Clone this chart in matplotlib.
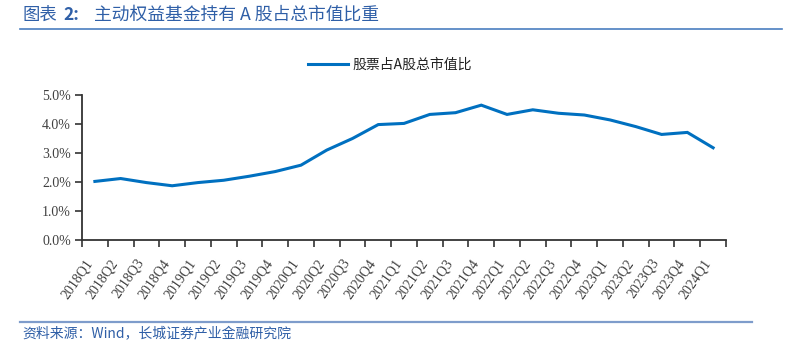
import numpy as np
import matplotlib.pyplot as plt
from matplotlib.lines import Line2D

plt.rcParams['font.family'] = ['Noto Sans CJK SC', 'DejaVu Sans']

# Data
quarters = ["2018Q1", "2018Q2", "2018Q3", "2018Q4",
            "2019Q1", "2019Q2", "2019Q3", "2019Q4",
            "2020Q1", "2020Q2", "2020Q3", "2020Q4",
            "2021Q1", "2021Q2", "2021Q3", "2021Q4",
            "2022Q1", "2022Q2", "2022Q3", "2022Q4",
            "2023Q1", "2023Q2", "2023Q3", "2023Q4",
            "2024Q1"]
share = [2.02, 2.12, 1.98, 1.87,
         1.98, 2.06, 2.20, 2.36,
         2.58, 3.10, 3.50, 3.98,
         4.02, 4.33, 4.39, 4.65,
         4.33, 4.49, 4.37, 4.31,
         4.14, 3.91, 3.64, 3.71,
         3.18]
series_name = "股票占A股总市值比"
source = "资料来源：Wind，长城证券产业金融研究院"

blue_line = "#0070C0"
blue_text = "#2F5FA7"
tick_col = "#404040"

fig = plt.figure(figsize=(7.87, 3.55), dpi=100)
ax = fig.add_axes([82 / 787, 1 - 240 / 355, (726 - 82) / 787, (240 - 95) / 355])

x = np.arange(len(quarters))
ax.plot(x, share, color=blue_line, lw=2.2, solid_joinstyle="miter")

ax.set_xlim(-0.5, len(quarters) - 0.5)
ax.set_ylim(0, 5)
yt = np.arange(0, 5.01, 1)
ax.set_yticks(yt)
ax.set_yticklabels([f"{v:.1f}%" for v in yt],
                   family="Liberation Serif", fontsize=10, color=tick_col)

# boundary ticks (marks) and label positions
ax.set_xticks(np.arange(-0.5, len(quarters), 1))
ax.set_xticklabels([])
ax.set_xticks(x - 0.4, minor=True)
ax.set_xticklabels(quarters, minor=True, rotation=55, ha="right",
                   rotation_mode="anchor", family="Liberation Serif",
                   fontsize=10, color=tick_col)
ax.tick_params(axis="x", which="major", direction="out", length=5, width=1.2, color="#333333")
ax.tick_params(axis="x", which="minor", length=0, pad=12)
ax.tick_params(axis="y", direction="out", length=5, width=1.2, color="#333333", pad=3)

for s in ["top", "right"]:
    ax.spines[s].set_visible(False)
for s in ["left", "bottom"]:
    ax.spines[s].set_color("#333333")
    ax.spines[s].set_linewidth(1.3)

# legend
leg = ax.legend([Line2D([0], [0], color=blue_line, lw=2.2)], [series_name],
                loc="center", bbox_to_anchor=(0.478, 1 + 30 / 145), frameon=False,
                fontsize=10, handlelength=2.9, handletextpad=0.3)
for t in leg.get_texts():
    t.set_color("#222222")

# header
fig.text(22 / 787, 1 - 15 / 355, "图表", color=blue_text, fontsize=12.5,
         va="center", ha="left")
fig.text(63 / 787, 1 - 15 / 355, "2:", color=blue_text, fontsize=12.5,
         weight="bold", va="center", ha="left")
fig.text(94 / 787, 1 - 15 / 355, "主动权益基金持有 A 股占总市值比重", color=blue_text,
         fontsize=12.8, va="center", ha="left")
fig.add_artist(Line2D([20 / 787, 782 / 787], [1 - 29 / 355] * 2, color="#4A7EC0", lw=1.2))

# footer
fig.add_artist(Line2D([20 / 787, 752 / 787], [1 - 322 / 355] * 2, color="#7E9CCB", lw=1.6))
fig.text(22 / 787, 1 - 334 / 355, source, color=blue_text, fontsize=10,
         va="center", ha="left")

fig.savefig("out.png", dpi=100)
